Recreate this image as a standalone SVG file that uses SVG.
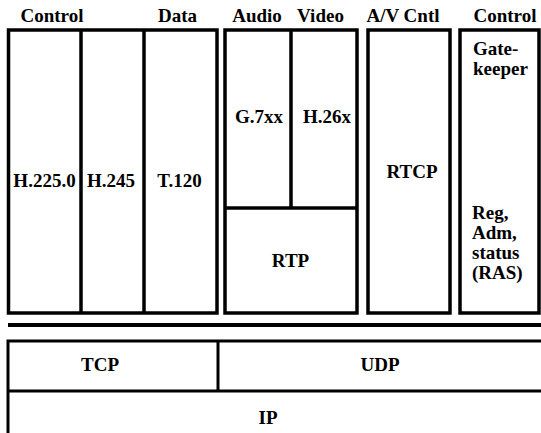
<svg xmlns="http://www.w3.org/2000/svg" width="541" height="433" viewBox="0 0 541 433">
<style>
text{font-family:"Liberation Serif","Times New Roman",serif;font-weight:700;font-size:19px;fill:#000}
.c{text-anchor:middle}
.box{fill:none;stroke:#000;stroke-width:3.5}
.lo{fill:none;stroke:#000;stroke-width:3}
</style>
<rect width="541" height="433" fill="#fff"/>
<text class="c" x="52" y="22" font-family="Liberation Serif">Control</text>
<text class="c" x="177.5" y="22" font-family="Liberation Serif">Data</text>
<text class="c" x="257" y="22" font-family="Liberation Serif">Audio</text>
<text class="c" x="320.5" y="22" font-family="Liberation Serif">Video</text>
<text class="c" x="403" y="22" font-family="Liberation Serif">A/V Cntl</text>
<text class="c" x="505" y="22" font-family="Liberation Serif">Control</text>
<g id="block-control-data">
<rect class="box" x="8.5" y="30" width="208.5" height="283"/>
<line class="box" x1="81" y1="30" x2="81" y2="313"/>
<line class="box" x1="144" y1="30" x2="144" y2="313"/>
</g>
<g id="h2250"><text class="c" x="44.5" y="187" font-family="Liberation Serif">H.225.0</text></g>
<g id="h245"><text class="c" x="111" y="187" font-family="Liberation Serif">H.245</text></g>
<g id="t120"><text class="c" x="179.5" y="187" font-family="Liberation Serif">T.120</text></g>
<g id="block-av">
<rect class="box" x="225" y="30" width="132" height="283"/>
<line class="box" x1="291" y1="30" x2="291" y2="208"/>
<line class="box" x1="225" y1="208" x2="357" y2="208"/>
</g>
<g id="g7xx"><text class="c" x="259" y="123" font-family="Liberation Serif">G.7xx</text></g>
<g id="h26x"><text class="c" x="327" y="123" font-family="Liberation Serif">H.26x</text></g>
<g id="rtp"><text class="c" x="290.5" y="267" font-family="Liberation Serif">RTP</text></g>
<g id="rtcp">
<rect class="box" x="368" y="30" width="82" height="283"/>
<text class="c" x="412" y="178" font-family="Liberation Serif">RTCP</text>
</g>
<g id="gatekeeper">
<rect class="box" x="460" y="30" width="79" height="283"/>
<text x="473" y="55" font-family="Liberation Serif">Gate-</text>
<text x="473" y="75" font-family="Liberation Serif">keeper</text>
<text x="472" y="219" font-family="Liberation Serif">Reg,</text>
<text x="472" y="239" font-family="Liberation Serif">Adm,</text>
<text x="472" y="259" font-family="Liberation Serif">status</text>
<text x="472" y="279" font-family="Liberation Serif">(RAS)</text>
</g>
<g id="separator">
<line x1="8" y1="325" x2="541" y2="325" stroke="#000" stroke-width="4"/>
</g>
<g id="transport">
<rect class="lo" x="8" y="341" width="540" height="100"/>
<line class="lo" x1="8" y1="391" x2="541" y2="391"/>
<line class="lo" x1="218" y1="341" x2="218" y2="391"/>
</g>
<g id="tcp"><text class="c" x="100" y="371" font-family="Liberation Serif">TCP</text></g>
<g id="udp"><text class="c" x="380" y="371" font-family="Liberation Serif">UDP</text></g>
<g id="ip"><text class="c" x="268" y="424" font-family="Liberation Serif">IP</text></g>
</svg>
